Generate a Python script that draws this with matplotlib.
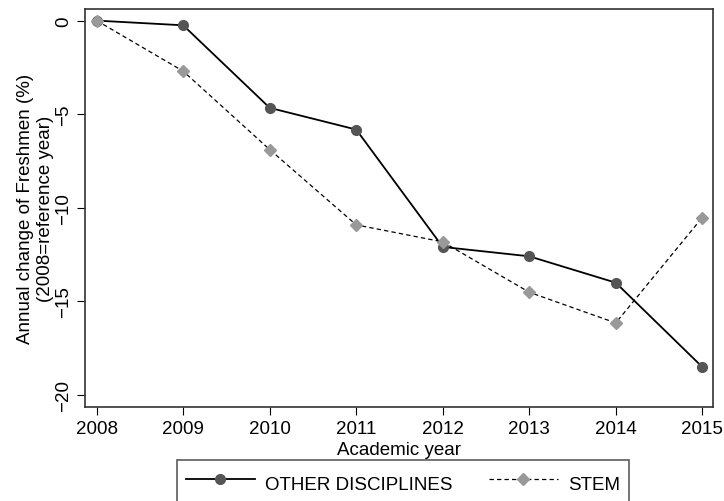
import matplotlib
matplotlib.use("Agg")
import matplotlib.pyplot as plt

plt.rcParams['font.family'] = ['Liberation Sans', 'DejaVu Sans']
plt.rcParams['axes.unicode_minus'] = True

# ─── Data ─────────────────────────────────────────────────────────────────────
years = [2008, 2009, 2010, 2011, 2012, 2013, 2014, 2015]
other = [0.0, -0.25, -4.66, -5.82, -12.09, -12.59, -14.0, -18.5]
stem = [0.0, -2.70, -6.89, -10.91, -11.82, -14.51, -16.15, -10.52]
yticks = [0, -5, -10, -15, -20]

FS = 13.5

fig = plt.figure(figsize=(7.24, 5.02), dpi=100)
ax = fig.add_axes([85/724, 1 - 408/502, (713 - 85)/724, (408 - 10)/502])

ax.plot(years, other, '-', color='black', lw=1.3, marker='o', ms=7,
        mfc='#555555', mec='#555555', label='OTHER DISCIPLINES')
ax.plot(years, stem, '--', color='black', lw=0.9, dashes=(3.5, 2.5),
        marker='D', ms=6.5, mfc='#999999', mec='#999999', label='STEM')

ax.set_xlim(2007.865, 2015.124)
ax.set_ylim(-20.64, 0.62)
ax.set_xticks(years)
ax.set_yticks(yticks)
ax.set_yticklabels([str(v).replace('-', '\u2212') for v in yticks],
                   rotation=90, va='center')
ax.tick_params(labelsize=FS, length=5.5, color='black')
ax.tick_params(axis='y', pad=4)
ax.tick_params(axis='x', pad=4)
for s in ax.spines.values():
    s.set_color('#333333')
    s.set_linewidth(1.2)

ax.set_xlabel("Academic year", fontsize=FS, labelpad=3)
ax.set_ylabel("Annual change of Freshmen (%)\n(2008=reference year)",
              fontsize=FS, linespacing=1.2)
ax.yaxis.set_label_coords(-31/628, 0.5)

# Stata-style legend box below the plot, running off the bottom edge
leg = fig.legend(loc='upper center', bbox_to_anchor=(403/724, 1 - 461/502),
                 ncol=2, fontsize=FS, frameon=True, fancybox=False,
                 edgecolor='#333333', handlelength=3.7, columnspacing=1.9,
                 borderpad=0.45, handletextpad=0.55, borderaxespad=0,
                 handleheight=2.0)
leg.get_frame().set_linewidth(1.2)

fig.savefig("out.png", dpi=100)
